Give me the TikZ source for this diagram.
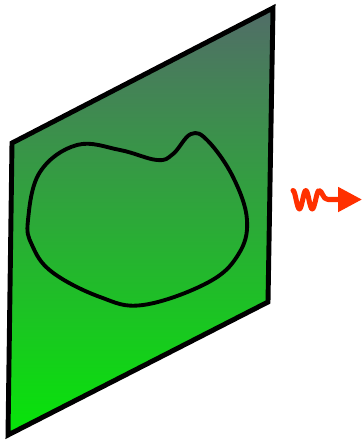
\documentclass[tikz,border=0pt]{standalone}
\usetikzlibrary{arrows.meta}

\definecolor{leafgreen}{RGB}{0,240,0}
\definecolor{midgreen}{RGB}{42,160,60}
\definecolor{slategray}{RGB}{88,98,112}
\definecolor{photonred}{RGB}{255,48,0}

\begin{document}
\begin{tikzpicture}[x=0.03cm, y=-0.03cm]
				\useasboundingbox (0,0) rectangle (362,443);
				\coordinate (TL) at (12,143);
				\coordinate (TR) at (273,8);
				\coordinate (BR) at (268,302);
				\coordinate (BL) at (8,435);
				
				% the plane
				\begin{scope}
					\clip (TL) -- (TR) -- (BR) -- (BL) -- cycle;
					\shade[shading angle=-32, bottom color=leafgreen, middle color=midgreen, top color=slategray]
						(-110,-29) rectangle (391,472);
				\end{scope}
				\draw[line width=4.2pt, line join=miter] (TL) -- (TR) -- (BR) -- (BL) -- cycle;
				
				% the loop on the plane
				\draw[line width=3.3pt] plot[smooth cycle, tension=0.65] coordinates {
					(28,220) (40,172) (77,145) (120,150) (157,160) (173,154) (191,134)
					(208,141) (233,177) (247,220) (238,255) (207,283) (143,305)
					(100,297) (52,272) (32,245)};
				
				% the photon
				\coordinate (W0) at (293,190.5);
				\coordinate (W1) at (362,199.5);
				\draw[photonred, line width=4.3pt, line cap=round, line join=round,
					-{Triangle[length=0.72cm, width=0.72cm]}]
					(W0) cos (296.2,200) sin (299.4,209) cos (302.6,200) sin (305.8,190.5)
					cos (309,200) sin (312.2,209) cos (315.6,200) sin (319,190.5)
					.. controls (322.5,190.5) and (322.5,199.5) .. (328,199.5) -- (W1);
			\end{tikzpicture}
\end{document}
